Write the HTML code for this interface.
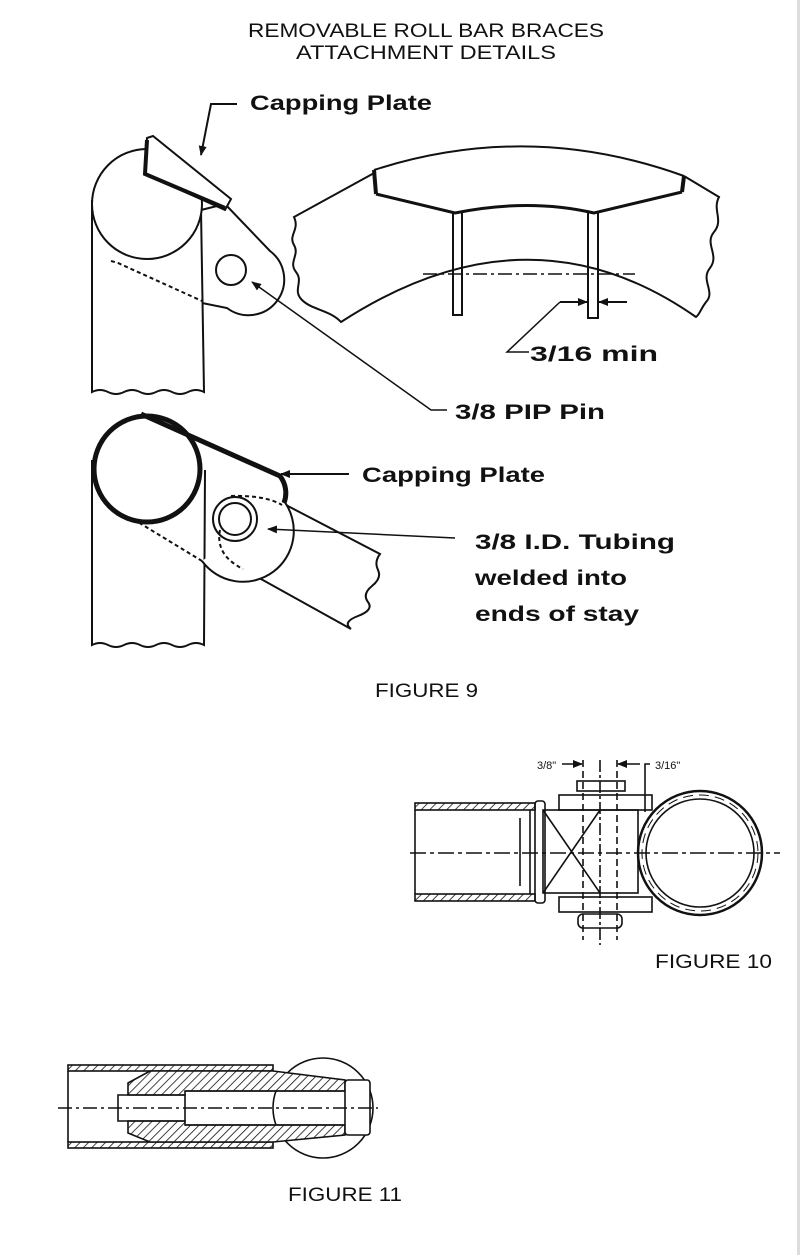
<!DOCTYPE html>
<html><head><meta charset="utf-8"><style>
html,body{margin:0;padding:0;background:#fff}
svg{display:block}
.t{font-family:"Liberation Sans",sans-serif;fill:#111}
.b{font-family:"Liberation Sans",sans-serif;font-weight:bold;fill:#111;font-size:21px}
</style></head><body>
<svg width="800" height="1255" viewBox="0 0 800 1255" xmlns="http://www.w3.org/2000/svg">
<defs>
<pattern id="h" width="6" height="6" patternUnits="userSpaceOnUse" patternTransform="rotate(45)">
<rect width="6" height="6" fill="#fff"/><line x1="0" y1="0" x2="0" y2="6" stroke="#111" stroke-width="1.6"/></pattern>
<marker id="a" markerWidth="10" markerHeight="8" refX="9" refY="4" orient="auto" markerUnits="userSpaceOnUse"><path d="M0,0 L10,4 L0,8z" fill="#111"/></marker>
</defs>
<rect x="797" y="0" width="3" height="1255" fill="#ddd"/>
<g class="t" font-size="19">
<text x="248" y="37" textLength="356" lengthAdjust="spacingAndGlyphs">REMOVABLE ROLL BAR BRACES</text>
<text x="296" y="59" textLength="260" lengthAdjust="spacingAndGlyphs">ATTACHMENT DETAILS</text>
<text x="375" y="697" textLength="103" lengthAdjust="spacingAndGlyphs">FIGURE 9</text>
<text x="655" y="968" textLength="117" lengthAdjust="spacingAndGlyphs">FIGURE 10</text>
<text x="288" y="1201" textLength="114" lengthAdjust="spacingAndGlyphs">FIGURE 11</text>
</g>
<g fill="none" stroke="#111" stroke-width="2">
<!-- upper fig9 left -->
<path d="M92,200 L92,392 q8,-4 16,0 t16,0 t16,0 t16,0 t16,0 t16,0 t16,0 L201,210"/>
<circle cx="147" cy="204" r="55" fill="#fff"/>
<path d="M201,210 L225,204 L270,251 A35,35 0 0 1 227,308 L202,303"/>
<circle cx="231" cy="270" r="15"/>
<path d="M111,261 L118,263 L202,301" stroke-dasharray="4,3"/>
<path d="M147,138 L153,136 L231,199 L225,210 L145,174 Z" fill="#fff"/>
<path d="M147,140 L145,174 L225,208" stroke-width="4"/>
<!-- leaders -->
<path d="M237,104 L211,104 L201,155" marker-end="url(#a)"/>
<path d="M447,410 L431,410 L252,282" stroke-width="1.5" marker-end="url(#a)"/>
<!-- right band -->
<path d="M376,172 L294,217 C300,230 288,235 294,245 C300,255 288,262 296,272 C304,282 292,290 302,300 C312,310 330,310 341,322 Q529,200 696,317 C700,314 700,310 706,302 C716,292 700,280 710,268 C720,255 704,244 714,232 C724,220 712,210 719,197 L684,176"/>
<path d="M374,170 Q529,120 684,176" />
<path d="M376,194 L455,213 Q529,198 594,213 L682,192" stroke-width="3"/>
<path d="M374,170 L376,194 M684,176 L682,192" stroke-width="4"/>
<path d="M453,213 L453,315 L462,315 L462,213 M588,213 L588,318 L598,318 L598,213"/>
<path d="M423,274 L635,274" stroke-width="1.5" stroke-dasharray="14,4,3,4"/>
<path d="M560,302 L587,302" marker-end="url(#a)"/>
<path d="M627,302 L599,302" marker-end="url(#a)"/>
<path d="M560,302 L507,352 L529,352" stroke-width="1.5"/>
<!-- lower fig9 -->
<path d="M92,460 L92,645 q8,-4 16,0 t16,0 t16,0 t16,0 t16,0 t16,0 t16,0 L205,470"/>
<path d="M284,504 L380,554 q-6,8 -2,16 t-6,16 t-4,16 t-10,14 t-7,13 L243,569"/>
<path d="M202,561 A40,40 0 0 0 284,501" fill="#fff"/>
<circle cx="147" cy="469" r="53" fill="#fff" stroke-width="5"/>
<path d="M141,414 L280,476 A28,28 0 0 1 284,503" stroke-width="5"/>
<path d="M133,519 L202,561 M231,496 Q265,495 282,505 M220,530 Q215,555 243,569" stroke-dasharray="4,3"/>
<circle cx="235" cy="519" r="22" stroke-width="2"/>
<circle cx="235" cy="519" r="16" stroke-width="2"/>
<path d="M349,474 L281,474" marker-end="url(#a)"/>
<path d="M455,538 L268,529" stroke-width="1.5" marker-end="url(#a)"/>
</g>
<g class="b">
<text x="250" y="110" textLength="182" lengthAdjust="spacingAndGlyphs">Capping Plate</text>
<text x="455" y="419" textLength="150" lengthAdjust="spacingAndGlyphs">3/8 PIP Pin</text>
<text x="530" y="361" textLength="128" lengthAdjust="spacingAndGlyphs">3/16 min</text>
<text x="362" y="482" textLength="183" lengthAdjust="spacingAndGlyphs">Capping Plate</text>
<text x="475" y="549" textLength="200" lengthAdjust="spacingAndGlyphs">3/8 I.D. Tubing</text>
<text x="475" y="585" textLength="152" lengthAdjust="spacingAndGlyphs">welded into</text>
<text x="475" y="621" textLength="164" lengthAdjust="spacingAndGlyphs">ends of stay</text>
</g>
<!-- figure 10 -->
<g fill="none" stroke="#111" stroke-width="1.6">
<rect x="415" y="803" width="120" height="7" fill="url(#h)"/>
<rect x="415" y="894" width="120" height="7" fill="url(#h)"/>
<path d="M415,810 L415,894"/>
<rect x="535" y="801" width="10" height="102" rx="3"/>
<path d="M530,810 L530,894 M520,818 L520,886"/>
<rect x="543" y="810" width="95" height="83"/>
<path d="M543,810 L600,893 M600,810 L543,893"/>
<rect x="559" y="795" width="93" height="15"/>
<rect x="577" y="781" width="48" height="10"/>
<rect x="559" y="897" width="93" height="15"/>
<rect x="578" y="914" width="44" height="14" rx="5"/>
<path d="M583,760 L583,940 M617,760 L617,940" stroke-dasharray="7,4"/>
<path d="M600,760 L600,945" stroke-dasharray="12,3,3,3"/>
<circle cx="700" cy="853" r="62" stroke-width="2.5"/>
<circle cx="700" cy="853" r="54"/>
<circle cx="700" cy="853" r="58" stroke-width="1" stroke-dasharray="10,6"/>
<path d="M410,853 L780,853" stroke-dasharray="16,4,4,4"/>
<path d="M562,764 L582,764" marker-end="url(#a)"/>
<path d="M640,764 L618,764" marker-end="url(#a)"/>
<path d="M650,764 L645,764 L645,812"/>
</g>
<g class="t" font-size="11"><text x="537" y="769">3/8"</text><text x="655" y="769">3/16"</text></g>
<!-- figure 11 -->
<g fill="none" stroke="#111" stroke-width="1.6">
<circle cx="323" cy="1108" r="50" fill="#fff"/>
<rect x="68" y="1065" width="205" height="6" fill="url(#h)"/>
<rect x="68" y="1142" width="205" height="6" fill="url(#h)"/>
<path d="M68,1071 L68,1142"/>
<path d="M128,1083 L150,1071 L273,1071 L345,1080 L345,1091 L185,1091 L185,1095 L128,1095 Z" fill="url(#h)"/>
<path d="M128,1133 L150,1142 L273,1142 L345,1135 L345,1125 L185,1125 L185,1121 L128,1121 Z" fill="url(#h)"/>
<path d="M118,1095 L185,1095 L185,1121 L118,1121 Z"/>
<path d="M185,1091 L345,1091 M185,1125 L345,1125"/>
<rect x="345" y="1080" width="25" height="55" rx="3" fill="#fff"/>
<path d="M58,1108 L378,1108" stroke-dasharray="14,4,3,4"/>
</g>
</svg>
</body></html>
